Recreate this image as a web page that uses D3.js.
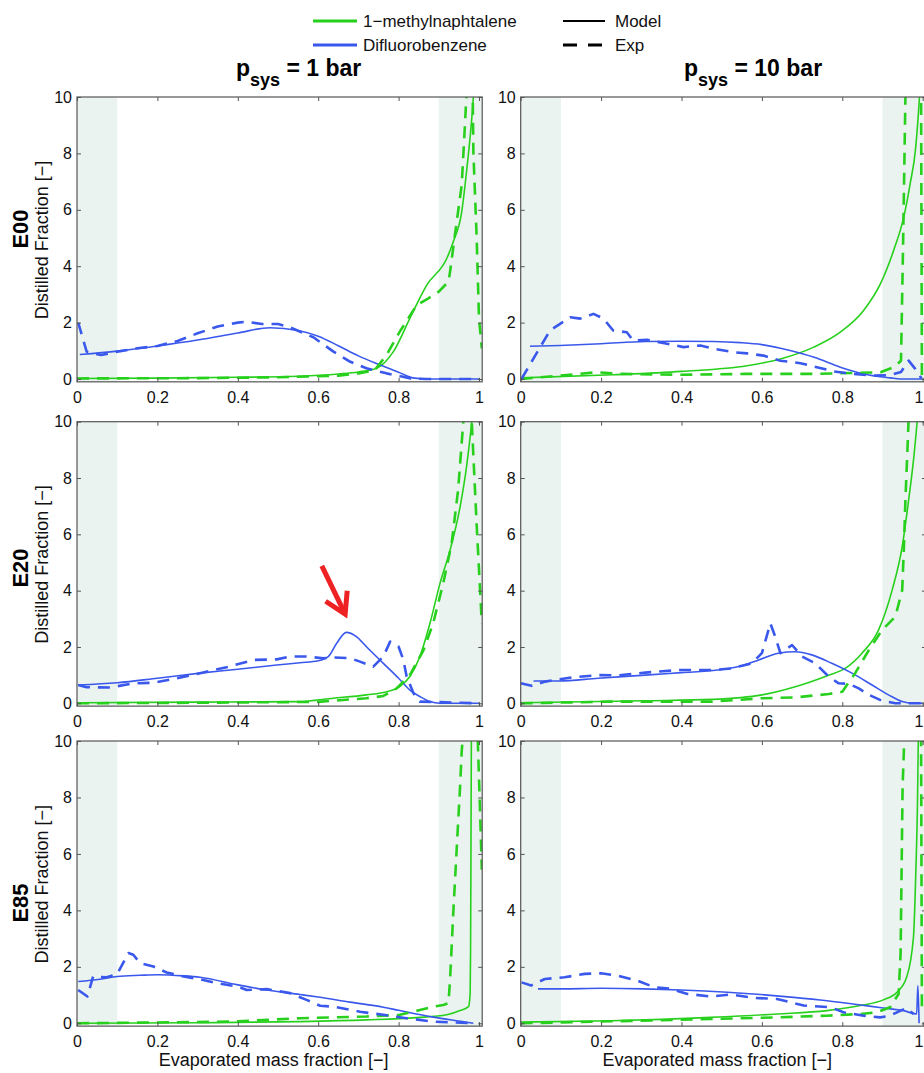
<!DOCTYPE html>
<html>
<head>
<meta charset="utf-8">
<script src="https://cdn.jsdelivr.net/npm/d3@7"></script>
<style>
body { margin: 0; background: #fff; }
</style>
</head>
<body>
<div id="chart"></div>
<script>
// categories / labels
var rowNames = ["E00", "E20", "E85"];
var pressures = ["1 bar", "10 bar"];
var seriesNames = ["1\u2212methylnaphtalene", "Difluorobenzene"];
var styleNames = ["Model", "Exp"];
var xTicks = [0, 0.2, 0.4, 0.6, 0.8, 1];
var xTickLabels = ["0", "0.2", "0.4", "0.6", "0.8", "1"];
var yTicks = [0, 2, 4, 6, 8, 10];
var shadeBands = [[0, 0.1], [0.9, 1.008]];
var arrowFrom = [0.609, 4.88], arrowTo = [0.667, 3.17];   // E20, 1 bar

// E00, 1 bar
var e00b1MnModel = [[0,0.02],[0.2,0.03],[0.4,0.06],[0.55,0.1],[0.65,0.18],[0.7,0.25],[0.745,0.38],[0.787,0.97],[0.828,2.15],[0.87,3.33],[0.92,4.28],[0.936,4.87],[0.957,5.93],[0.969,7.35],[0.982,9.24],[0.986,10],[0.99,11]];
var e00b1MnExp = [[0,0.02],[0.3,0.03],[0.5,0.06],[0.65,0.12],[0.7,0.2],[0.74,0.3],[0.77,0.85],[0.803,1.68],[0.845,2.62],[0.874,2.86],[0.9,3.1],[0.924,3.45],[0.928,3.8],[0.94,5.1],[0.957,6.88],[0.965,9],[0.972,11],[0.978,12],[0.984,10.5],[0.986,8.06],[0.994,5.1],[1.0,2.15],[1.007,1.09]];
var e00b1DfbModel = [[0.007,0.87],[0.1,0.99],[0.2,1.17],[0.3,1.38],[0.4,1.63],[0.48,1.82],[0.55,1.72],[0.6,1.52],[0.65,1.18],[0.7,0.82],[0.75,0.52],[0.8,0.24],[0.84,0.03],[0.88,0],[1.0,0]];
var e00b1DfbExp = [[0.003,2.0],[0.024,0.97],[0.06,0.85],[0.1,0.97],[0.15,1.09],[0.2,1.17],[0.25,1.35],[0.3,1.62],[0.35,1.86],[0.4,2.0],[0.42,2.03],[0.46,1.95],[0.5,1.95],[0.53,1.83],[0.588,1.48],[0.638,0.97],[0.68,0.61],[0.72,0.38],[0.77,0.2],[0.83,0.02],[0.87,0],[1.0,0]];

// E00, 10 bar
var e00b10MnModel = [[0,0.04],[0.23,0.15],[0.4,0.27],[0.563,0.47],[0.646,0.71],[0.729,1.13],[0.795,1.66],[0.853,2.43],[0.895,3.38],[0.928,4.57],[0.953,5.75],[0.969,6.94],[0.982,8.13],[0.992,10],[0.998,11.5]];
var e00b10MnExp = [[0,0],[0.065,0.08],[0.19,0.24],[0.25,0.18],[0.4,0.15],[0.56,0.18],[0.73,0.18],[0.895,0.24],[0.928,0.42],[0.946,0.65],[0.951,4.57],[0.957,10],[0.96,12],[0.993,12],[0.996,10],[0.998,0.06]];
var e00b10DfbModel = [[0.023,1.16],[0.098,1.19],[0.2,1.25],[0.31,1.33],[0.4,1.34],[0.48,1.33],[0.546,1.29],[0.6,1.22],[0.67,1.01],[0.73,0.77],[0.795,0.42],[0.853,0.18],[0.92,0.04],[0.944,0],[1.0,0]];
var e00b10DfbExp = [[0.002,0],[0.036,0.83],[0.073,1.72],[0.123,2.19],[0.148,2.14],[0.181,2.31],[0.206,2.14],[0.23,1.72],[0.264,1.66],[0.28,1.36],[0.314,1.39],[0.364,1.25],[0.405,1.13],[0.447,1.19],[0.48,1.07],[0.53,0.95],[0.563,0.91],[0.604,0.83],[0.646,0.65],[0.696,0.56],[0.729,0.44],[0.779,0.27],[0.828,0.18],[0.878,0.12],[0.92,0.14],[0.946,0.25],[0.965,0.65],[0.982,0.35],[0.997,0.02]];

// E20, 1 bar
var e20b1MnModel = [[0,0.02],[0.3,0.04],[0.55,0.06],[0.638,0.18],[0.72,0.3],[0.77,0.41],[0.803,0.59],[0.828,0.95],[0.853,1.66],[0.878,2.84],[0.903,4.26],[0.928,5.44],[0.953,6.98],[0.969,8.4],[0.982,10],[0.99,11.2]];
var e20b1MnExp = [[0,0],[0.3,0.02],[0.6,0.05],[0.72,0.18],[0.762,0.26],[0.795,0.53],[0.828,1.0],[0.862,1.89],[0.886,2.84],[0.911,4.26],[0.932,5.68],[0.948,7.57],[0.961,10],[0.968,12],[0.977,12],[0.982,10],[0.994,6.39],[1.007,2.84]];
var e20b1DfbModel = [[0.003,0.65],[0.1,0.73],[0.2,0.89],[0.306,1.07],[0.4,1.21],[0.497,1.36],[0.555,1.44],[0.6,1.51],[0.625,1.66],[0.646,2.13],[0.67,2.52],[0.695,2.37],[0.72,2.01],[0.762,1.42],[0.8,0.89],[0.828,0.47],[0.853,0.24],[0.878,0.06],[0.903,0],[1.0,0]];
var e20b1DfbExp = [[0.003,0.65],[0.024,0.57],[0.082,0.56],[0.14,0.71],[0.19,0.73],[0.248,0.89],[0.306,1.07],[0.372,1.28],[0.439,1.54],[0.497,1.56],[0.53,1.66],[0.571,1.66],[0.613,1.6],[0.638,1.63],[0.68,1.6],[0.704,1.48],[0.737,1.3],[0.762,1.66],[0.779,2.19],[0.8,2.01],[0.812,1.54],[0.82,0.95],[0.837,0.36],[0.853,0.06],[1.0,0]];

// E20, 10 bar
var e20b10MnModel = [[0,0.02],[0.31,0.09],[0.476,0.14],[0.6,0.3],[0.683,0.59],[0.766,1.0],[0.807,1.24],[0.849,1.78],[0.89,2.6],[0.924,4.02],[0.949,5.56],[0.965,7.22],[0.978,8.76],[0.986,10],[0.993,11.5]];
var e20b10MnExp = [[0,0],[0.227,0.06],[0.476,0.06],[0.6,0.18],[0.683,0.21],[0.766,0.33],[0.8,0.41],[0.832,1.07],[0.866,1.89],[0.899,2.6],[0.932,3.08],[0.949,4.02],[0.953,5.44],[0.957,7.22],[0.963,9.35],[0.966,10.5]];
var e20b10DfbModel = [[0.032,0.79],[0.094,0.79],[0.193,0.89],[0.31,1.0],[0.4,1.09],[0.49,1.18],[0.55,1.33],[0.592,1.54],[0.641,1.78],[0.683,1.83],[0.724,1.72],[0.774,1.42],[0.824,1.07],[0.874,0.65],[0.915,0.3],[0.949,0.06],[0.973,0],[1.0,0]];
var e20b10DfbExp = [[0,0.71],[0.027,0.62],[0.061,0.77],[0.127,0.92],[0.193,1.0],[0.243,0.99],[0.31,1.09],[0.393,1.18],[0.476,1.18],[0.525,1.24],[0.575,1.42],[0.6,1.78],[0.621,2.84],[0.633,2.37],[0.646,1.78],[0.675,2.07],[0.7,1.66],[0.733,1.42],[0.766,0.95],[0.791,0.71],[0.816,0.69],[0.841,0.53],[0.866,0.3],[0.899,0.09],[0.932,0],[1.0,0]];

// E85, 1 bar
var e85b1MnModel = [[0,0],[0.306,0.02],[0.555,0.06],[0.72,0.12],[0.845,0.2],[0.92,0.3],[0.953,0.45],[0.974,0.59],[0.978,1.07],[0.979,2.49],[0.98,6.04],[0.981,10],[0.982,11]];
var e85b1MnExp = [[0,0],[0.389,0.06],[0.555,0.18],[0.72,0.24],[0.803,0.3],[0.853,0.47],[0.886,0.59],[0.911,0.65],[0.924,0.71],[0.928,1.54],[0.936,3.91],[0.944,6.04],[0.953,8.4],[0.957,9.64],[0.959,10],[0.962,12],[0.994,12],[0.997,10],[1.002,7.81],[1.007,5.44]];
var e85b1DfbModel = [[0.003,1.48],[0.057,1.56],[0.1,1.66],[0.157,1.7],[0.2,1.72],[0.265,1.68],[0.306,1.63],[0.4,1.36],[0.472,1.18],[0.555,1.02],[0.6,0.93],[0.679,0.75],[0.762,0.57],[0.8,0.46],[0.886,0.22],[0.969,0.04],[0.986,0]];
var e85b1DfbExp = [[0.003,1.18],[0.026,0.95],[0.04,1.66],[0.074,1.63],[0.1,1.75],[0.128,2.49],[0.14,2.43],[0.157,2.13],[0.19,2.01],[0.223,1.8],[0.265,1.66],[0.306,1.56],[0.348,1.42],[0.4,1.3],[0.422,1.18],[0.472,1.21],[0.53,1.07],[0.571,0.83],[0.605,0.62],[0.638,0.59],[0.704,0.41],[0.762,0.3],[0.82,0.18],[0.886,0.06],[0.986,0]];

// E85, 10 bar
var e85b10MnModel = [[0,0.04],[0.225,0.09],[0.473,0.21],[0.638,0.33],[0.762,0.45],[0.845,0.63],[0.902,0.83],[0.936,1.1],[0.96,1.63],[0.977,3.05],[0.983,5.41],[0.987,7.78],[0.989,10],[0.99,11]];
var e85b10MnExp = [[0,0],[0.225,0.07],[0.473,0.15],[0.638,0.21],[0.762,0.27],[0.845,0.33],[0.886,0.39],[0.919,0.57],[0.94,1.04],[0.945,2.46],[0.948,6.0],[0.95,8.37],[0.954,10],[0.957,12],[0.993,12],[0.996,10],[0.998,0.5]];
var e85b10DfbModel = [[0.043,1.22],[0.1,1.22],[0.2,1.24],[0.307,1.22],[0.398,1.18],[0.514,1.1],[0.597,1.02],[0.679,0.92],[0.762,0.8],[0.845,0.65],[0.902,0.54],[0.952,0.45],[0.985,0.33],[0.988,1.34],[0.991,0]];
var e85b10DfbExp = [[0.002,1.45],[0.026,1.34],[0.06,1.57],[0.109,1.63],[0.159,1.75],[0.2,1.77],[0.241,1.69],[0.291,1.51],[0.332,1.28],[0.374,1.22],[0.415,1.04],[0.473,0.95],[0.522,1.02],[0.58,0.9],[0.638,0.86],[0.704,0.63],[0.77,0.57],[0.803,0.39],[0.853,0.27],[0.894,0.21],[0.919,0.27],[0.936,0.39],[0.96,0.54],[0.977,0.33]];

var panelData = [
	[[e00b1MnModel, e00b1MnExp, e00b1DfbModel, e00b1DfbExp], [e00b10MnModel, e00b10MnExp, e00b10DfbModel, e00b10DfbExp]],
	[[e20b1MnModel, e20b1MnExp, e20b1DfbModel, e20b1DfbExp], [e20b10MnModel, e20b10MnExp, e20b10DfbModel, e20b10DfbExp]],
	[[e85b1MnModel, e85b1MnExp, e85b1DfbModel, e85b1DfbExp], [e85b10MnModel, e85b10MnExp, e85b10DfbModel, e85b10DfbExp]]
];

// layout
var green = "#27d01c", blue = "#3a58ec";
var colLeft = [77, 520.7];
var rowTop = [97, 421.7, 741];
var rowZero = [379, 703.3, 1023.3];
var rowLabelY = [229, 568, 903];
var pxPerX = 402, xMax = 1.008, yMin = -0.1;
var pageW = 924;

var svg = d3.select('#chart').append('svg')
	.attr('width', pageW)
	.attr('height', 1073)
	.style('font-family', '"Liberation Sans", Arial, sans-serif');

// legend
var lg = svg.append('g');
[green, blue].forEach(function (c, i) {
	lg.append('line').attr('x1', 313).attr('x2', 357).attr('y1', 21 + i * 24).attr('y2', 21 + i * 24)
		.attr('stroke', c).attr('stroke-width', 3);
	lg.append('text').attr('x', 363).attr('y', 27 + i * 24).attr('font-size', 17).attr('fill', '#111')
		.text(seriesNames[i]);
});
styleNames.forEach(function (s, i) {
	lg.append('line').attr('x1', 563).attr('x2', i ? 603 : 605).attr('y1', 21 + i * 24).attr('y2', 21 + i * 24)
		.attr('stroke', '#000').attr('stroke-width', i ? 3 : 2.2)
		.attr('stroke-dasharray', i ? '14,11' : null);
	lg.append('text').attr('x', 615).attr('y', 27 + i * 24).attr('font-size', 17).attr('fill', '#111')
		.text(s);
});

// column titles
var titleX = [236, 684];
pressures.forEach(function (p, c) {
	var t = svg.append('text').attr('x', titleX[c]).attr('y', 76)
		.attr('font-weight', 'bold').attr('font-size', 23).attr('fill', '#000');
	t.append('tspan').text('p');
	t.append('tspan').attr('font-size', 18).attr('dy', 10).text('sys');
	t.append('tspan').attr('dy', -10).text(' = ' + p);
});

var line = d3.line();

rowNames.forEach(function (rowName, r) {
	// row labels
	svg.append('text').attr('transform', 'translate(28,' + rowLabelY[r] + ') rotate(-90)')
		.attr('text-anchor', 'middle').attr('font-weight', 'bold').attr('font-size', 22)
		.attr('fill', '#000').text(rowName);
	svg.append('text')
		.attr('transform', 'translate(48,' + ((rowTop[r] + rowZero[r]) / 2 + 2) + ') rotate(-90)')
		.attr('text-anchor', 'middle').attr('font-size', 18).attr('fill', '#111')
		.text('Distilled Fraction [\u2212]');

	pressures.forEach(function (p, c) {
		var x = d3.scaleLinear().domain([0, 1]).range([colLeft[c], colLeft[c] + pxPerX]);
		var y = d3.scaleLinear().domain([0, 10]).range([rowZero[r], rowTop[r]]);
		var g = svg.append('g');
		var clipId = 'clip' + r + c;

		g.append('clipPath').attr('id', clipId).append('rect')
			.attr('x', x(0)).attr('y', y(10))
			.attr('width', x(xMax) - x(0)).attr('height', y(yMin) - y(10));

		g.selectAll('rect.band').data(shadeBands).enter().append('rect')
			.attr('class', 'band')
			.attr('x', function (d) { return x(d[0]); })
			.attr('width', function (d) { return x(d[1]) - x(d[0]); })
			.attr('y', y(10))
			.attr('height', y(yMin) - y(10))
			.attr('fill', '#eaf3ef');

		line.x(function (d) { return x(d[0]); }).y(function (d) { return y(d[1]); });

		var sets = panelData[r][c];
		var plot = g.append('g').attr('clip-path', 'url(#' + clipId + ')');
		var styles = [
			{ data: sets[0], color: green, dash: null, w: 1.6, curve: d3.curveMonotoneX },
			{ data: sets[2], color: blue, dash: null, w: 1.6, curve: d3.curveMonotoneX },
			{ data: sets[1], color: green, dash: '12,8', w: 2.6, curve: d3.curveLinear },
			{ data: sets[3], color: blue, dash: '12,8', w: 2.6, curve: d3.curveLinear }
		];
		styles.forEach(function (s) {
			plot.append('path')
				.attr('d', line.curve(s.curve)(s.data))
				.attr('fill', 'none')
				.attr('stroke', s.color)
				.attr('stroke-width', s.w)
				.attr('stroke-dasharray', s.dash)
				.attr('stroke-linejoin', 'round');
		});

		// axes with inward ticks, box on
		var xb = d3.scaleLinear().domain([0, xMax]).range([x(0), x(xMax)]);
		var yb = d3.scaleLinear().domain([yMin, 10]).range([y(yMin), y(10)]);
		var bottom = g.append('g').attr('transform', 'translate(0,' + y(yMin) + ')')
			.call(d3.axisBottom(xb).tickValues(xTicks).tickSize(-4).tickPadding(10)
				.tickFormat(function (d, i) { return xTickLabels[i]; }));
		var left = g.append('g').attr('transform', 'translate(' + x(0) + ',0)')
			.call(d3.axisLeft(yb).tickValues(yTicks).tickSize(-4).tickPadding(5));
		var top = g.append('g').attr('transform', 'translate(0,' + y(10) + ')')
			.call(d3.axisTop(xb).tickValues(xTicks).tickSize(-4).tickFormat(''));
		var right = g.append('g').attr('transform', 'translate(' + x(xMax) + ',0)')
			.call(d3.axisRight(yb).tickValues(yTicks).tickSize(-4).tickFormat(''));
		[bottom, left, top, right].forEach(function (a) {
			a.select('.domain').remove();
			a.selectAll('line').attr('stroke', '#555');
			a.selectAll('text').attr('font-size', 16).attr('fill', '#111')
				.attr('font-family', '"Liberation Sans", Arial, sans-serif');
		});
		// keep the last tick label inside the page at the right edge
		bottom.selectAll('.tick').each(function (d) {
			if (xb(d) + 6 > pageW) {
				d3.select(this).select('text').attr('text-anchor', 'end')
					.attr('x', pageW - 1 - xb(d));
			}
		});
		g.append('rect')
			.attr('x', x(0)).attr('y', y(10))
			.attr('width', x(xMax) - x(0)).attr('height', y(yMin) - y(10))
			.attr('fill', 'none').attr('stroke', '#555').attr('stroke-width', 1.2);

		if (r == rowNames.length - 1) {
			g.append('text').attr('x', (x(0) + x(xMax)) / 2 - 6).attr('y', 1066)
				.attr('text-anchor', 'middle').attr('font-size', 18).attr('fill', '#111')
				.text('Evaporated mass fraction [\u2212]');
		}

		// red arrow annotation (E20, 1 bar)
		if (r == 1 && c == 0) {
			var x0 = x(arrowFrom[0]), y0 = y(arrowFrom[1]);
			var x1 = x(arrowTo[0]), y1 = y(arrowTo[1]);
			var len = Math.hypot(x1 - x0, y1 - y0);
			var ux = (x1 - x0) / len, uy = (y1 - y0) / len;
			var bx = x1 - ux * 20, by = y1 - uy * 20;
			g.append('line').attr('x1', x0).attr('y1', y0).attr('x2', x1 - ux * 3).attr('y2', y1 - uy * 3)
				.attr('stroke', '#ee2222').attr('stroke-width', 5);
			g.append('polyline')
				.attr('points', [[bx - uy * 12, by + ux * 12], [x1, y1], [bx + uy * 12, by - ux * 12]].join(' '))
				.attr('fill', 'none').attr('stroke', '#ee2222').attr('stroke-width', 5)
				.attr('stroke-linejoin', 'miter');
		}
	});
});
</script>
</body>
</html>
